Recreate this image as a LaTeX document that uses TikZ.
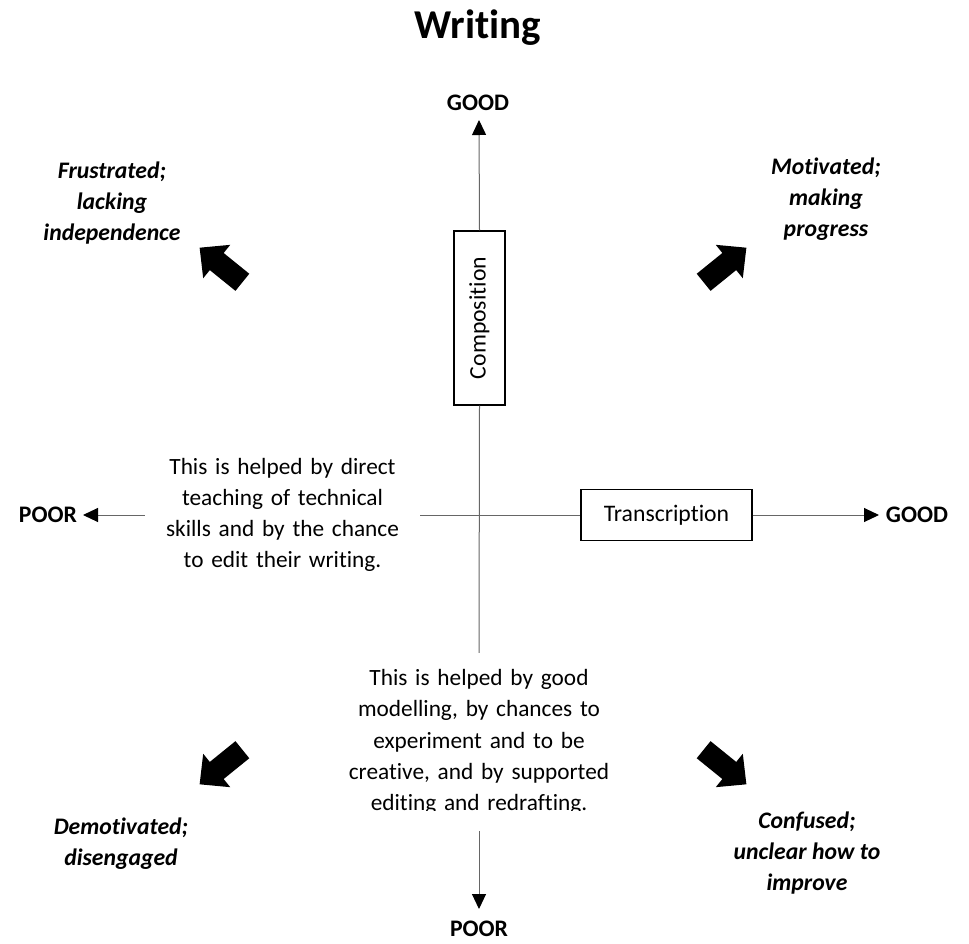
\documentclass[tikz,border=0pt]{standalone}
\usepackage{fontspec}
\setmainfont{Carlito}[Ligatures=NoCommon]
\usetikzlibrary{arrows.meta}

\begin{document}
\begin{tikzpicture}[x=1pt,y=-1pt,
  axisline/.style={draw=black!60,line width=1pt},
  axistip/.style={-{Triangle[length=15pt,width=14pt,black]}},
  ends/.style={font=\fontsize{23.7}{29}\selectfont\bfseries,inner sep=0pt},
  mood/.style={font=\fontsize{23.7}{31}\selectfont\bfseries\itshape,align=center,inner sep=0pt},
  helptxt/.style={font=\fontsize{23.3}{31.2}\selectfont,align=center,inner sep=0pt},
  dimbox/.style={draw=black,line width=1.3pt,fill=white,inner sep=0pt,
    font=\fontsize{23.7}{29}\selectfont}]
\useasboundingbox (0,0) rectangle (969,943);
% Title
\node[anchor=base,font=\fontsize{41}{49}\selectfont\bfseries] (title) at (478,38) {Writing};
% Ends of the axes
\node[ends] (goodN) at (478,103) {GOOD};
\node[ends] (poorS) at (479,929) {POOR};
\node[ends] (poorW) at (48,515) {POOR};
\node[ends] (goodE) at (917,515) {GOOD};
\coordinate (ntip) at (479,120);
\coordinate (stip) at (479,909);
\coordinate (wtip) at (83,515);
\coordinate (etip) at (879,515);
% The two dimensions
\node[dimbox,minimum width=51pt,minimum height=174pt] (comp) at (479.5,318) {\rotatebox{90}{Composition}};
\node[dimbox,minimum width=171pt,minimum height=51pt] (trans) at (666.5,515) {Transcription};
% Texts on the axes
\node[helptxt,text width=275pt] (edittxt) at (282.5,515)
  {This is helped by direct\\ teaching of technical\\ skills and by the chance\\ to edit their writing.};
\begin{scope}
\clip (300,640) rectangle (660,810);
\node[helptxt,text width=300pt,minimum height=178pt] (modtxt) at (479,742)
  {This is helped by good\\ modelling, by chances to\\ experiment and to be\\ creative, and by supported\\ editing and redrafting.};
\end{scope}
% Axes
\draw[axisline,axistip] (comp.north) -- (ntip);
\draw[axisline] (comp.south) -- (modtxt.north);
\draw[axisline,axistip] (modtxt.south) -- (stip);
\draw[axisline,axistip] (edittxt.west) -- (wtip);
\draw[axisline] (edittxt.east) -- (trans.west);
\draw[axisline,axistip] (trans.east) -- (etip);
% Quadrants
\node[mood] (frus) at (112,203) {Frustrated;\\ lacking\\ independence};
\node[mood] (moti) at (826,199) {Motivated;\\ making\\ progress};
\node[mood] (demo) at (121,844) {Demotivated;\\ disengaged};
\node[mood] (conf) at (807,853) {Confused;\\ unclear how to\\ improve};
% Block arrows
\foreach \cx/\cy/\ang in {221/265/141,725/265/39,221/767/219,725/767/321}
  \fill[shift={(\cx,\cy)},rotate=\ang] (27.5,0) -- (5.5,21.5) -- (5.5,11) -- (-27.5,11)
    -- (-27.5,-11) -- (5.5,-11) -- (5.5,-21.5) -- cycle;
\end{tikzpicture}
\end{document}
